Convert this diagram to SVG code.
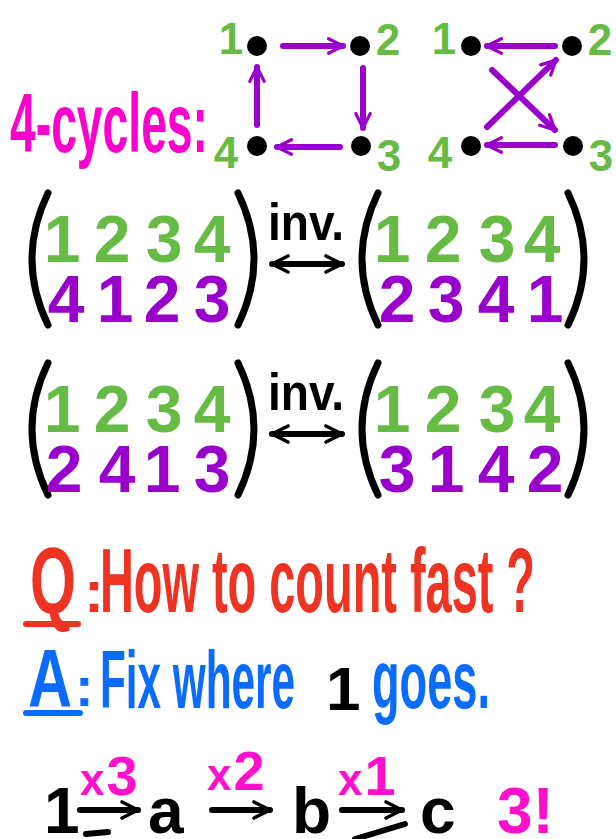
<svg xmlns="http://www.w3.org/2000/svg" width="616" height="839" viewBox="0 0 616 839">
<style>
text{font-family:"Liberation Sans Narrow","Liberation Sans",Arial,sans-serif;font-weight:bold}
.gr{fill:#66bb44;font-size:66px;text-anchor:middle}
.pu{fill:#9900cc;font-size:66px;text-anchor:middle}
.lab{fill:#66bb44;font-size:44px;text-anchor:middle}
.par{fill:none;stroke:#000;stroke-width:7;stroke-linecap:round}
.con{fill:none;stroke:#9900cc;stroke-width:6;stroke-linecap:round;stroke-linejoin:round}
.blk{fill:none;stroke:#000;stroke-width:6;stroke-linecap:round;stroke-linejoin:round}
.dot{fill:#000}
</style>
<defs>
<marker id="ah" viewBox="0 0 10 10" refX="9" refY="5" markerWidth="18" markerHeight="22" markerUnits="userSpaceOnUse" orient="auto">
<path d="M1,1 L9,5 L1,9" fill="none" stroke="#9900cc" stroke-width="1.8" stroke-linecap="round" stroke-linejoin="round"/>
</marker>
<marker id="bh" viewBox="0 0 10 10" refX="9" refY="5" markerWidth="20" markerHeight="24" markerUnits="userSpaceOnUse" orient="auto-start-reverse">
<path d="M1,1 L9,5 L1,9" fill="none" stroke="#000" stroke-width="1.8" stroke-linecap="round" stroke-linejoin="round"/>
</marker>
</defs>
<rect width="616" height="839" fill="#fff"/>

<g id="title"><text x="10" y="152" font-size="84" fill="#ff00cc" textLength="198" lengthAdjust="spacingAndGlyphs">4-cycles:</text></g>

<g id="graph1">
<g id="g1n1"><circle class="dot" cx="257" cy="46" r="10"/><text class="lab" x="231" y="54">1</text></g>
<g id="g1n2"><circle class="dot" cx="360" cy="46" r="10"/><text class="lab" x="388" y="55">2</text></g>
<g id="g1n3"><circle class="dot" cx="361" cy="146" r="10"/><text class="lab" x="389" y="171">3</text></g>
<g id="g1n4"><circle class="dot" cx="257" cy="146" r="10"/><text class="lab" x="226" y="168">4</text></g>
</g>
<g id="graph2">
<g id="g2n1"><circle class="dot" cx="471" cy="46" r="10"/><text class="lab" x="444" y="54">1</text></g>
<g id="g2n2"><circle class="dot" cx="572" cy="46" r="10"/><text class="lab" x="600" y="55">2</text></g>
<g id="g2n3"><circle class="dot" cx="573" cy="146" r="10"/><text class="lab" x="601" y="171">3</text></g>
<g id="g2n4"><circle class="dot" cx="471" cy="146" r="10"/><text class="lab" x="440" y="168">4</text></g>
</g>
<g id="connectors">
<path class="con" d="M283,46 L343,46" marker-end="url(#ah)"/>
<path class="con" d="M363,68 L363,128" marker-end="url(#ah)"/>
<path class="con" d="M340,147 L277,147" marker-end="url(#ah)"/>
<path class="con" d="M257,125 L257,67" marker-end="url(#ah)"/>
<path class="con" d="M555,46 L487,46" marker-end="url(#ah)"/>
<path class="con" d="M492,70 L555,130" marker-end="url(#ah)"/>
<path class="con" d="M555,145 L487,145" marker-end="url(#ah)"/>
<path class="con" d="M487,127 L556,60" marker-end="url(#ah)"/>
</g>

<g id="perm1">
<path class="par" d="M48,193 Q16,259 48,325"/>
<path class="par" d="M238,193 Q270,259 238,325"/>
<text class="gr" x="62" y="262">1</text><text class="gr" x="112" y="262">2</text><text class="gr" x="164" y="262">3</text><text class="gr" x="212" y="262">4</text>
<text class="pu" x="66" y="322">4</text><text class="pu" x="115" y="322">1</text><text class="pu" x="162" y="322">2</text><text class="pu" x="212" y="322">3</text>
</g>
<g id="inv1">
<text x="268" y="240" font-size="52" fill="#000" textLength="76" lengthAdjust="spacingAndGlyphs">inv.</text>
<path class="blk" d="M272,264 L342,264" marker-start="url(#bh)" marker-end="url(#bh)"/>
</g>
<g id="perm2">
<path class="par" d="M378,193 Q346,259 378,325"/>
<path class="par" d="M568,193 Q600,259 568,325"/>
<text class="gr" x="392" y="262">1</text><text class="gr" x="443" y="262">2</text><text class="gr" x="497" y="262">3</text><text class="gr" x="542" y="262">4</text>
<text class="pu" x="397" y="322">2</text><text class="pu" x="446" y="322">3</text><text class="pu" x="496" y="322">4</text><text class="pu" x="545" y="322">1</text>
</g>

<g id="perm3">
<path class="par" d="M48,363 Q16,429 48,495"/>
<path class="par" d="M238,363 Q270,429 238,495"/>
<text class="gr" x="62" y="432">1</text><text class="gr" x="112" y="432">2</text><text class="gr" x="164" y="432">3</text><text class="gr" x="212" y="432">4</text>
<text class="pu" x="64" y="492">2</text><text class="pu" x="117" y="492">4</text><text class="pu" x="162" y="492">1</text><text class="pu" x="212" y="492">3</text>
</g>
<g id="inv2">
<text x="268" y="410" font-size="52" fill="#000" textLength="76" lengthAdjust="spacingAndGlyphs">inv.</text>
<path class="blk" d="M272,434 L342,434" marker-start="url(#bh)" marker-end="url(#bh)"/>
</g>
<g id="perm4">
<path class="par" d="M378,363 Q346,429 378,495"/>
<path class="par" d="M568,363 Q600,429 568,495"/>
<text class="gr" x="392" y="432">1</text><text class="gr" x="443" y="432">2</text><text class="gr" x="497" y="432">3</text><text class="gr" x="542" y="432">4</text>
<text class="pu" x="397" y="492">3</text><text class="pu" x="446" y="492">1</text><text class="pu" x="496" y="492">4</text><text class="pu" x="545" y="492">2</text>
</g>

<g id="question">
<text x="30" y="613" font-size="94" fill="#ee3322" textLength="46" lengthAdjust="spacingAndGlyphs">Q</text>
<text x="84" y="612" font-size="60" fill="#ee3322">:</text>
<path d="M26,624 L78,624" stroke="#ee3322" stroke-width="6" stroke-linecap="round"/>
<text x="100" y="612" font-size="90" fill="#ee3322" textLength="435" lengthAdjust="spacingAndGlyphs">How to count fast ?</text>
</g>
<g id="answer">
<text x="28" y="706" font-size="82" fill="#0a6cff" textLength="44" lengthAdjust="spacingAndGlyphs">A</text>
<text x="75" y="706" font-size="56" fill="#0a6cff">:</text>
<path d="M26,713 L80,713" stroke="#0a6cff" stroke-width="6" stroke-linecap="round"/>
<text x="100" y="708" font-size="82" fill="#0a6cff" textLength="195" lengthAdjust="spacingAndGlyphs">Fix where</text>
<text x="326" y="710" font-size="62" fill="#000">1</text>
<text x="372" y="708" font-size="82" fill="#0a6cff" textLength="118" lengthAdjust="spacingAndGlyphs">goes.</text>
</g>

<g id="chain">
<text x="44" y="833" font-size="64" fill="#000">1</text>
<text x="80" y="795" fill="#ff11cc" font-size="44">x<tspan font-size="56" dx="2">3</tspan></text>
<path class="blk" d="M80,810 L138,810" marker-end="url(#bh)"/>
<text x="148" y="833" font-size="64" fill="#000">a</text>
<text x="207" y="790" fill="#ff11cc" font-size="44">x<tspan font-size="56" dx="2">2</tspan></text>
<path class="blk" d="M212,810 L270,810" marker-end="url(#bh)"/>
<text x="292" y="833" font-size="64" fill="#000">b</text>
<text x="338" y="795" fill="#ff11cc" font-size="44">x<tspan font-size="56" dx="2">1</tspan></text>
<path class="blk" d="M342,810 L402,810" marker-end="url(#bh)"/>
<text x="420" y="833" font-size="64" fill="#000">c</text>
<text x="497" y="833" font-size="64" fill="#ff11cc">3!</text>
<path class="blk" d="M86,834 L108,832"/>
<path class="blk" d="M355,839 L405,824"/>
</g>
</svg>
